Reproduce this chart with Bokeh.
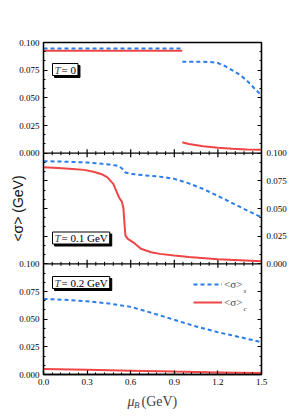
import numpy as np
from bokeh.plotting import figure
from bokeh.layouts import column
from bokeh.models import (FixedTicker, LinearAxis, Range1d, Span, Label,
                          Legend, LegendItem)
from bokeh.embed import file_html
from bokeh.resources import INLINE

# ---------------- data (GeV) ----------------
# T = 0
mu_T0_low = [0.0, 0.955]
s_T0_low = [0.0945, 0.0945]
c_T0_low = [0.0925, 0.0925]
mu_T0_s_high = [0.955, 1.0, 1.05, 1.1, 1.15, 1.2, 1.25, 1.3, 1.35, 1.4, 1.45, 1.5]
s_T0_high = [0.0826, 0.0826, 0.0826, 0.0825, 0.0823, 0.0815, 0.0786, 0.0748, 0.0709, 0.0655, 0.0587, 0.0521]
mu_T0_c_high = [0.955, 1.0, 1.1, 1.2, 1.3, 1.4, 1.5]
c_T0_high = [0.0099, 0.0083, 0.0063, 0.0049, 0.0040, 0.0034, 0.0030]

# T = 0.1 GeV
mu_T01_s = [0.0, 0.1, 0.2, 0.3, 0.4, 0.45, 0.5, 0.52, 0.54, 0.56, 0.6, 0.65, 0.7,
            0.8, 0.9, 1.0, 1.1, 1.2, 1.3, 1.4, 1.5]
s_T01 = [0.0927, 0.0925, 0.0921, 0.0915, 0.0905, 0.0898, 0.0888, 0.0882, 0.0862,
         0.0828, 0.0813, 0.0806, 0.0799, 0.0788, 0.0768, 0.0727, 0.0676, 0.0614,
         0.0548, 0.0483, 0.0421]
mu_T01_c = [0.0, 0.1, 0.2, 0.28, 0.35, 0.4, 0.44, 0.48, 0.5, 0.52, 0.54, 0.55,
            0.558, 0.564, 0.58, 0.62, 0.67, 0.74, 0.8, 0.9, 1.0, 1.2, 1.5]
c_T01 = [0.0873, 0.0867, 0.0858, 0.0849, 0.0830, 0.0810, 0.0782, 0.0723, 0.0662,
         0.0600, 0.0560, 0.0500, 0.0350, 0.0255, 0.0225, 0.0192, 0.0136, 0.0105,
         0.0090, 0.0075, 0.0061, 0.0041, 0.0023]

# T = 0.2 GeV
mu_T02_s = [0.0, 0.15, 0.3, 0.45, 0.6, 0.75, 0.9, 1.05, 1.2, 1.35, 1.5]
s_T02 = [0.0683, 0.0675, 0.0662, 0.0641, 0.0611, 0.0555, 0.0494, 0.0434, 0.0382, 0.0338, 0.0292]
mu_T02_c = [0.0, 0.3, 0.6, 0.9, 1.2, 1.5]
c_T02 = [0.0050, 0.0044, 0.0035, 0.0026, 0.0019, 0.0013]

x_ticks = [0.0, 0.3, 0.6, 0.9, 1.2, 1.5]
x_tick_labels = ["0.0", "0.3", "0.6", "0.9", "1.2", "1.5"]
panel_labels = ["= 0", "= 0.1 GeV", "= 0.2 GeV"]
panel_offsets = [0.2, 0.1, 0.0]   # vertical stacking of the three panels

BLUE = "#2b7de9"
RED = "#f04545"
SERIF = "Liberation Serif"

# ---------------- main figure ----------------
p = figure(width=290, height=390, output_backend="svg", toolbar_location=None,
           x_range=Range1d(0, 1.5), y_range=Range1d(0, 0.3),
           min_border_left=43, min_border_right=29, min_border_top=42,
           min_border_bottom=16, x_axis_location=None, y_axis_location=None)
p.grid.visible = False
p.outline_line_color = "black"
p.outline_line_width = 1.3

# ticks
y_major = [round(i * 0.025, 4) for i in range(13)]
y_minor = [round(k / 120, 6) for k in range(37) if k % 3 != 0]
x_minor = [round(k * 0.06, 4) for k in range(26) if k % 5 != 0]

left_over, right_over = {}, {}
for t in y_major:
    if t <= 0.1 + 1e-9:
        left_over[t] = f"{t:.3f}"
    elif t >= 0.2 - 1e-9:
        left_over[t] = f"{t - 0.2:.3f}"
    else:
        left_over[t] = ""
    if 0.1 - 1e-9 <= t <= 0.2 + 1e-9:
        right_over[t] = f"{t - 0.1:.3f}"
    else:
        right_over[t] = ""


def style_axis(ax):
    ax.axis_line_color = "black"
    ax.axis_line_width = 1.3
    ax.major_tick_in = 4
    ax.major_tick_out = 0
    ax.minor_tick_in = 2
    ax.minor_tick_out = 0
    ax.major_tick_line_width = 1.2
    ax.minor_tick_line_width = 1.0
    ax.major_label_text_font = SERIF
    ax.major_label_text_font_size = "9px"
    ax.major_label_text_color = "black"


yl = LinearAxis(ticker=FixedTicker(ticks=y_major, minor_ticks=y_minor),
                major_label_overrides=left_over)
style_axis(yl)
yl.major_label_standoff = 4
yl.axis_label = "<σ> (GeV)"
yl.axis_label_text_font = "Liberation Sans"
yl.axis_label_text_font_size = "14px"
yl.axis_label_text_font_style = "normal"
yl.axis_label_text_color = "#111111"
yl.axis_label_standoff = -10
p.add_layout(yl, "left")

yr = LinearAxis(ticker=FixedTicker(ticks=y_major, minor_ticks=y_minor),
                major_label_overrides=right_over)
style_axis(yr)
yr.major_label_standoff = 5
p.add_layout(yr, "right")

xb = LinearAxis(ticker=FixedTicker(ticks=x_ticks, minor_ticks=x_minor),
                major_label_overrides={t: l for t, l in zip(x_ticks, x_tick_labels)})
style_axis(xb)
xb.major_label_standoff = 4
p.add_layout(xb, "below")

# panel separators with crossing ticks
px_per_unit = 332 / 0.3
for b in panel_offsets[:2]:
    p.add_layout(Span(location=b, dimension="width", line_color="black", line_width=1.3))
    inner_major = x_ticks[1:-1]
    L = 4 / px_per_unit
    p.segment(x0=inner_major, x1=inner_major, y0=[b - L] * len(inner_major),
              y1=[b + L] * len(inner_major), line_color="black", line_width=1.2)
    l = 2 / px_per_unit
    p.segment(x0=x_minor, x1=x_minor, y0=[b - l] * len(x_minor),
              y1=[b + l] * len(x_minor), line_color="black", line_width=1.0)


def shift(vals, off):
    return [v + off for v in vals]


lw = 2
dash = "4 3"
o0, o1, o2 = panel_offsets
# T = 0
p.line(mu_T0_low, shift(c_T0_low, o0), line_color=RED, line_width=lw)
p.line(mu_T0_low, shift(s_T0_low, o0), line_color=BLUE, line_width=lw, line_dash=dash)
p.line(mu_T0_c_high, shift(c_T0_high, o0), line_color=RED, line_width=lw)
p.line(mu_T0_s_high, shift(s_T0_high, o0), line_color=BLUE, line_width=lw, line_dash=dash)
# T = 0.1
p.line(mu_T01_c, shift(c_T01, o1), line_color=RED, line_width=lw)
p.line(mu_T01_s, shift(s_T01, o1), line_color=BLUE, line_width=lw, line_dash=dash)
# T = 0.2
r_c = p.line(mu_T02_c, shift(c_T02, o2), line_color=RED, line_width=lw)
r_s = p.line(mu_T02_s, shift(s_T02, o2), line_color=BLUE, line_width=lw, line_dash=dash)

legend = Legend(items=[LegendItem(label="<σ>", renderers=[r_s]),
                       LegendItem(label="<σ>", renderers=[r_c])],
                location=(150, 64), background_fill_alpha=0, border_line_alpha=0,
                padding=0, margin=0, spacing=2, glyph_width=29, glyph_height=16,
                label_height=16, label_standoff=2, label_text_font=SERIF,
                label_text_font_size="11px")
p.add_layout(legend)

for txt, yy in (("s", 84), ("c", 66)):
    p.add_layout(Label(x=200, y=yy, x_units="screen", y_units="screen", text=txt,
                       text_font=SERIF, text_font_style="italic", text_font_size="7px",
                       text_baseline="middle", text_align="left"))

# panel labels with shadowed boxes
panel_y = [305, 136.5, 92]
for txt, yy in zip(panel_labels, panel_y):
    common = dict(x_units="screen", y_units="screen", text=txt, text_font=SERIF,
                  text_font_size="11px", text_baseline="middle", text_align="left",
                  padding=dict(left=9, right=2, top=0, bottom=0))
    p.add_layout(Label(x=11, y=yy - 2, text_color="black", background_fill_color="black",
                       border_line_color="black", **common))
    p.add_layout(Label(x=9, y=yy, text_color="black", background_fill_color="white",
                       border_line_color="black", border_line_width=1, **common))
    p.add_layout(Label(x=11, y=yy, x_units="screen", y_units="screen", text="T",
                       text_font=SERIF, text_font_style="italic", text_font_size="11px",
                       text_baseline="middle", text_align="left"))

# ---------------- x-axis title strip (frame aligned with the main frame) ----------------
q = figure(width=290, height=24, output_backend="svg", toolbar_location=None,
           x_range=Range1d(0, 1), y_range=Range1d(0, 1), min_border=0,
           x_axis_location=None, y_axis_location=None)
q.grid.visible = False
q.outline_line_color = None
q.add_layout(Label(x=84, y=13, x_units="screen", y_units="screen", text="μ",
                   text_font=SERIF, text_font_style="italic", text_font_size="14px",
                   text_baseline="middle", text_align="left"))
q.add_layout(Label(x=90.5, y=10, x_units="screen", y_units="screen", text="B",
                   text_font=SERIF, text_font_style="italic", text_font_size="9px",
                   text_baseline="middle", text_align="left"))
q.add_layout(Label(x=98, y=13, x_units="screen", y_units="screen", text="(GeV)",
                   text_font=SERIF, text_font_size="14px",
                   text_baseline="middle", text_align="left"))

layout = column(p, q, spacing=0)
open("out.html", "w").write(file_html(layout, INLINE))
